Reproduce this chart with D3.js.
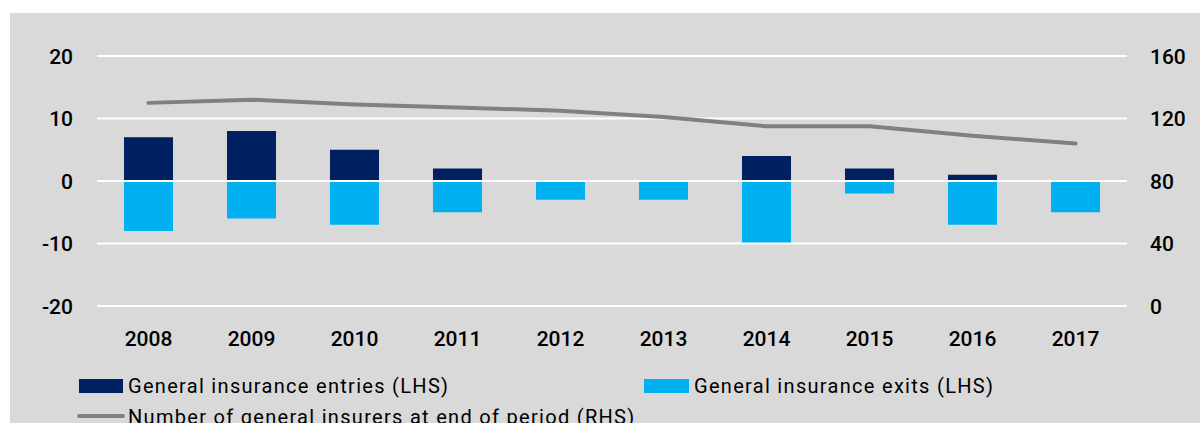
<!DOCTYPE html>
<html>
<head>
<meta charset="utf-8">
<script src="https://cdn.jsdelivr.net/npm/d3@7"></script>
<style>
  html, body { margin: 0; padding: 0; background: #ffffff; }
  svg { display: block; }
  text { font-family: Roboto, "Liberation Sans", sans-serif; fill: #000; }
</style>
</head>
<body>
<svg id="chart" width="1200" height="423"></svg>
<script>
const years = ["2008","2009","2010","2011","2012","2013","2014","2015","2016","2017"];
const entries = [7, 8, 5, 2, 0, 0, 4, 2, 1, 0];
const exits = [-8, -6, -7, -5, -3, -3, -10, -2, -7, -5];
const insurers = [130, 132, 129, 127, 125, 121, 115, 115, 109, 104];
const leftTicks = [-20, -10, 0, 10, 20];
const rightTicks = [0, 40, 80, 120, 160];
const legendLabels = ["General insurance entries (LHS)", "General insurance exits (LHS)", "Number of general insurers at end of period (RHS)"];
const colors = { entries: "#002060", exits: "#00b0f0", line: "#808080", panel: "#d9d9d9", grid: "#ffffff" };

const svg = d3.select("#chart");
const W = 1200, H = 423;
const plot = { left: 97, right: 1127, top: 56, bottom: 306 };

svg.append("rect").attr("x", 10).attr("y", 13).attr("width", W - 10).attr("height", H - 13).attr("fill", colors.panel);

const x = d3.scaleBand().domain(years).range([plot.left, plot.right]).paddingInner(0.524).paddingOuter(0.262);
const yL = d3.scaleLinear().domain([-20, 20]).range([plot.bottom, plot.top]);
const yR = d3.scaleLinear().domain([0, 160]).range([plot.bottom, plot.top]);

const g = svg.append("g");

// bars
g.selectAll("rect.entry").data(years).enter().append("rect")
  .attr("class", "entry")
  .attr("x", d => x(d)).attr("width", x.bandwidth())
  .attr("y", (d, i) => yL(Math.max(0, entries[i])))
  .attr("height", (d, i) => Math.abs(yL(entries[i]) - yL(0)))
  .attr("fill", colors.entries);

g.selectAll("rect.exit").data(years).enter().append("rect")
  .attr("class", "exit")
  .attr("x", d => x(d)).attr("width", x.bandwidth())
  .attr("y", yL(0))
  .attr("height", (d, i) => Math.abs(yL(exits[i]) - yL(0)))
  .attr("fill", colors.exits);

// gridlines
g.selectAll("line.grid").data(leftTicks).enter().append("line")
  .attr("x1", plot.left).attr("x2", plot.right)
  .attr("y1", d => yL(d)).attr("y2", d => yL(d))
  .attr("stroke", colors.grid).attr("stroke-width", 2);

// line
const line = d3.line().x((d, i) => x(years[i]) + x.bandwidth() / 2).y(d => yR(d));
g.append("path").datum(insurers).attr("d", line)
  .attr("fill", "none").attr("stroke", colors.line).attr("stroke-width", 4)
  .attr("stroke-linecap", "round").attr("stroke-linejoin", "round");

const fmt = d => String(d); // plain hyphen minus

// left axis
const axL = svg.append("g").attr("transform", `translate(73,0)`)
  .call(d3.axisLeft(yL).tickValues(leftTicks).tickSize(0).tickPadding(0).tickFormat(fmt));
axL.select(".domain").remove();
axL.selectAll("text").attr("font-size", 21).attr("font-weight", 500).attr("font-family", "Roboto, sans-serif").attr("fill", "#000").attr("dy", "0.35em");

// right axis
const axR = svg.append("g").attr("transform", `translate(1150,0)`)
  .call(d3.axisRight(yR).tickValues(rightTicks).tickSize(0).tickPadding(0).tickFormat(fmt));
axR.select(".domain").remove();
axR.selectAll("text").attr("font-size", 21).attr("font-weight", 500).attr("font-family", "Roboto, sans-serif").attr("fill", "#000").attr("dy", "0.35em");

// x axis
const axX = svg.append("g").attr("transform", `translate(0,${plot.bottom})`)
  .call(d3.axisBottom(x).tickSize(0).tickPadding(0));
axX.select(".domain").remove();
axX.selectAll("text").attr("font-size", 21).attr("font-weight", 500).attr("font-family", "Roboto, sans-serif").attr("fill", "#000").attr("dy", "0").attr("y", 40);

// legend
const lg = svg.append("g").attr("font-size", 20).attr("letter-spacing", "1.3px");
lg.append("rect").attr("x", 79).attr("y", 379).attr("width", 44).attr("height", 14).attr("fill", colors.entries);
lg.append("text").attr("x", 128).attr("y", 393).text(legendLabels[0]);
lg.append("rect").attr("x", 644).attr("y", 379).attr("width", 45).attr("height", 14).attr("fill", colors.exits);
lg.append("text").attr("x", 694).attr("y", 393).text(legendLabels[1]);
lg.append("line").attr("x1", 79).attr("x2", 123).attr("y1", 416).attr("y2", 416)
  .attr("stroke", colors.line).attr("stroke-width", 4).attr("stroke-linecap", "round");
lg.append("text").attr("x", 128).attr("y", 424).text(legendLabels[2]);
</script>
</body>
</html>
